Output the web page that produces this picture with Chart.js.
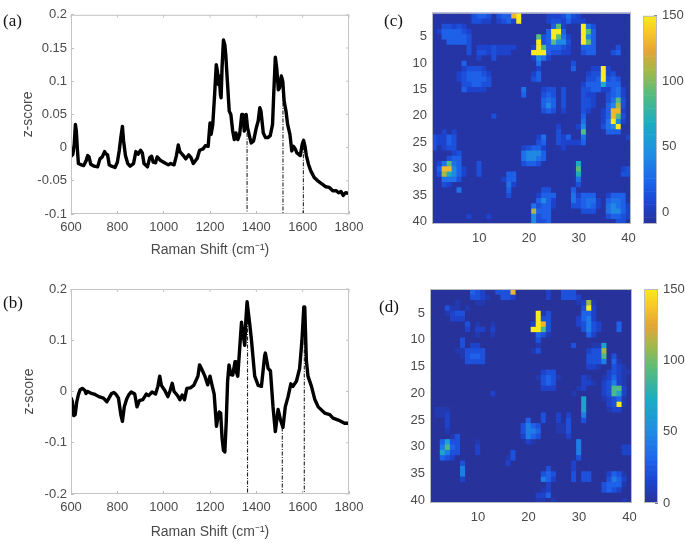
<!DOCTYPE html>
<html><head><meta charset="utf-8">
<script src="https://cdn.jsdelivr.net/npm/chart.js@4"></script>
<style>
html,body{margin:0;padding:0;background:#fff;width:685px;height:543px;overflow:hidden}
canvas{position:absolute;left:0;top:0;filter:blur(0.45px)}
canvas.map{filter:blur(0.6px)}
.tag{position:absolute;font:17px "Liberation Serif",serif;color:#111;filter:blur(0.3px)}
</style></head><body>
<canvas id="a" width="685" height="543"></canvas>
<canvas id="b" width="685" height="543"></canvas>
<canvas id="c" class="map" width="685" height="543"></canvas>
<canvas id="cbarC" width="685" height="543"></canvas>
<canvas id="d" class="map" width="685" height="543"></canvas>
<canvas id="cbarD" width="685" height="543"></canvas>
<div class="tag" style="left:3px;top:11px">(a)</div>
<div class="tag" style="left:3px;top:293px">(b)</div>
<div class="tag" style="left:384px;top:11px">(c)</div>
<div class="tag" style="left:379px;top:297px">(d)</div>
<script>
const shiftA=[600,608,614,619,623,628,632,645,655,665,672,678,685,700,715,725,735,745,750,758,765,775,790,800,808,815,822,827,835,845,855,870,880,890,900,908,915,930,940,948,955,965,972,985,1000,1020,1030,1045,1055,1063,1070,1085,1095,1108,1118,1128,1145,1155,1170,1180,1192,1200,1205,1212,1220,1227,1232,1237,1240,1245,1248,1252,1258,1264,1268,1275,1283,1290,1298,1305,1312,1320,1328,1337,1342,1348,1356,1362,1372,1378,1388,1400,1408,1415,1420,1430,1440,1450,1460,1470,1475,1482,1488,1495,1500,1508,1514,1520,1528,1535,1545,1553,1560,1568,1575,1590,1598,1604,1610,1616,1625,1635,1650,1665,1680,1700,1715,1730,1745,1755,1765,1775,1785,1800];
const zA=[-.013,-.01,.005,.035,.025,-.005,-.024,-.026,-.027,-.02,-.012,-.014,-.025,-.028,-.029,-.017,-.014,-.006,-.009,-.011,-.026,-.028,-.03,-.022,-.005,.015,.032,.01,-.012,-.024,-.028,-.024,-.006,-.01,-.004,-.008,-.024,-.029,-.015,-.013,-.022,-.023,-.014,-.019,-.022,-.026,-.024,-.026,-.012,.004,-.006,-.012,-.017,-.011,-.015,-.024,-.016,-.004,-.002,.003,.002,.037,.02,.035,.08,.125,.115,.095,.108,.08,.075,.12,.162,.155,.14,.1,.055,.05,.025,.012,.022,.012,.02,.05,.05,.025,.05,.03,.015,.007,.01,.03,.04,.06,.055,.022,.015,.015,.018,.035,.08,.136,.12,.087,.09,.108,.1,.07,.055,.035,.02,-.005,.002,-.002,-.008,-.012,.005,.011,.002,-.012,-.025,-.035,-.045,-.05,-.054,-.059,-.06,-.065,-.065,-.068,-.066,-.072,-.068,-.069];
const shiftB=[600,606,612,618,625,632,640,650,660,665,672,685,700,720,740,755,765,775,785,795,805,815,822,830,840,850,860,875,885,895,910,925,935,950,965,975,983,990,1005,1018,1028,1037,1045,1060,1070,1080,1090,1100,1115,1130,1140,1148,1155,1165,1178,1190,1200,1210,1218,1228,1234,1240,1246,1252,1258,1264,1270,1276,1282,1290,1298,1308,1312,1320,1329,1336,1340,1350,1355,1360,1372,1379,1393,1408,1422,1436,1439,1451,1461,1472,1482,1494,1504,1515,1525,1537,1549,1558,1573,1587,1597,1605,1609,1616,1623,1638,1652,1667,1695,1717,1731,1760,1781,1800];
const zB=[-.012,-.02,-.047,-.045,-.02,-.006,.004,.006,.002,-.004,0,-.003,-.005,-.01,-.013,-.02,-.012,-.004,-.002,-.006,-.013,-.045,-.058,-.03,-.015,-.006,-.001,-.005,-.03,-.018,-.016,-.005,-.008,-.001,-.005,.01,.03,.012,.002,-.01,.002,.016,0,-.008,-.016,-.007,-.016,.006,.007,.012,.022,.03,.052,.043,.03,.013,.03,.01,-.005,-.068,-.05,-.04,-.042,-.09,-.115,-.118,-.06,.02,.052,.033,.032,.058,.04,.03,.09,.135,.12,.09,.14,.175,.13,.1,.03,.012,.01,.07,.075,.045,.04,-.03,-.078,-.035,-.055,-.07,-.03,-.01,.015,.01,.02,.045,.1,.165,.165,.06,.03,.01,-.015,-.03,-.042,-.045,-.052,-.057,-.062,-.062];
const peakShiftA=[1360,1515,1603], peakTopA=[.022,.08,.002];
const peakShiftB=[1362,1512,1607], peakTopB=[.17,-.07,.16];
const shiftTicks=[600,800,1000,1200,1400,1600,1800];
const zTicksA=[-.1,-.05,0,.05,.1,.15,.2];
const zTicksB=[-.2,-.1,0,.1,.2];
const mapTicksX=[10,20,30,40];
const mapTicksY=[5,10,15,20,25,30,35,40];
const barTicks=[0,50,100,150];
const levels=[0,6,13,21,29,42,66,90,110,130,150]; // cell code 0-9,A -> value
const cellsC=["9:2332 14:2339A 24:1112421","9:2211 14:1231A 24:12213111","3:22121 25:371 31:A42","2:1333321 24:3AA3 31:A73","3:333332 22:723A741 31:A53","4:33332 22:A237552 31:A73","8:2 10:1112 14:1111 21:1A733321 31:333 38:2","8:2 10:2212111 21:AAA32211 31:233 37:23","10:1002 21:1541","7:3 22:4 29:2","7:12221 22:1 29:3 33:11A1","6:1233321 21:13 32:122A12","6:1233332 21:23 32:223A232","7:223322 31:13336333","7:31111 19:4 23:122 27:2 31:223311341","19:3 23:232 27:2 31:211 36:2341","23:343 27:2 31:221 36:2472","23:353 27:2 31:221 36:3582","23:232 27:1 31:21 35:13991","13:2 31:3 35:13972","31:4 35:14A51","26:1 30:15 35:245A","3:101 26:2 31:7 36:333","1:21132 22:14 26:213 31:4 40:1","1:21132 22:23 26:211113","1:2 3:122 19:12331 27:1","5:12 19:45553","4:233 19:45543","2:14743 10:2 19:2332 30:6","2:399531 10:2 30:7 39:12","2:286531 10:2 16:33 30:6 39:22","3:4442 15:133 30:4","3:21 16:41 30:2","6:4 16:3 23:22 29:3","16:2 22:1333 29:41333 36:1333","22:3531 29:423441 36:3443","21:42331 29:223431 36:45431","21:8333 31:222 36:45531","8:1 12:1 21:5233 36:23321","21:5223 38:22"];
const cellsD=["9:432 14:3339 24:2 27:333","9:3321 15:332 24:2 27:3332","6:1 10:11 30:1281","4:311 8:1 31:3A2","4:1233 22:A13 31:442","5:222 22:A33 30:2452","8:3 10:1 13:1 21:2A93 30:23532 38:4","8:2 10:22 13:2 21:AA73 31:3532 38:4","10:1 13:1 22:431 32:42","7:3 22:3","7:3 9:22 22:1 29:3 33:11 35:6","6:113333 21:13 32:2338","7:13443 32:3337 37:3","8:3333 32:3335 37:41","32:221 37:321","23:233 36:23211","22:13431 31:21 35:12421","23:343 31:221 35:23521","23:222 30:12 35:23772","13:2 29:1 35:23762","31:6 35:12341","31:6 36:23A1","2:111 31:6 36:122","2:112 23:3 26:2 28:2 31:5","4:2 20:4 23:3 26:2 28:3 31:3","4:2 19:3543 26:113","4:1 19:3554 26:113","5:13 19:2543 28:2","3:4633 10:1 20:21 30:5","3:5743 10:2 30:5 39:22","3:6533 10:2 17:3 30:5 39:22","3:432 16:13 30:3","7:3 16:2 29:2","7:5 24:3 29:2","7:5 23:343 29:3 31:33 36:2431","7:2 23:542 29:3 31:33 36:3542","24:2 35:34441","23:12 35:3432","22:224","22:11 25:1 39:1"];

const W=685,H=543,tick='#4a4a4a';
const sans='"Liberation Sans",Arial,sans-serif';
const anchors=[[0,40,50,155],[.1,28,68,208],[.2,30,100,235],[.33,32,140,228],[.48,28,172,195],[.62,85,188,125],[.73,160,185,75],[.83,230,165,55],[.92,248,200,40],[1,250,235,30]];
function parula(t){t=Math.max(0,Math.min(1,t));let i=0;while(i<anchors.length-2&&t>anchors[i+1][0])i++;
 const a=anchors[i],b=anchors[i+1],f=(t-a[0])/(b[0]-a[0]);
 return `rgb(${[1,2,3].map(k=>Math.round(a[k]+(b[k]-a[k])*f)).join(',')})`;}
function frame(color,mirror,fill){return{id:'frame',
 beforeDatasetsDraw(ch){if(!fill)return;const{ctx,chartArea:A}=ch;ctx.save();ctx.fillStyle=fill;ctx.fillRect(A.left,A.top,A.right-A.left,A.bottom-A.top);ctx.restore();},
 afterDatasetsDraw(ch){const{ctx,chartArea:A,scales}=ch;ctx.save();ctx.strokeStyle=color;ctx.lineWidth=1;
 ctx.strokeRect(A.left+.5,A.top+.5,A.right-A.left-1,A.bottom-A.top-1);
 if(mirror){ctx.beginPath();
  scales.x.ticks.forEach(t=>{const p=scales.x.getPixelForValue(t.value);ctx.moveTo(p,A.top);ctx.lineTo(p,A.top+3);});
  scales.y.ticks.forEach(t=>{const p=scales.y.getPixelForValue(t.value);ctx.moveTo(A.right,p);ctx.lineTo(A.right-3,p);});
  ctx.stroke();}
 ctx.restore();}};}
const makeChart=(id,type,rect,data,scales,plugins)=>new Chart(document.getElementById(id),{type,data,plugins,
 options:{responsive:false,animation:false,events:[],
  layout:{padding:{top:rect.t,right:rect.pr!==undefined?rect.pr:W-rect.r,bottom:rect.pb||0,left:rect.pl||0}},
  plugins:{legend:{display:false},tooltip:{enabled:false}},scales}});

function linePanel(id,rect,xs,ys,zTicks,zMin,zMax,px,pt,xTitleY,yTitleX){
 const ds=[{data:xs.map((x,i)=>({x,y:ys[i]})),showLine:true,borderColor:'#000',borderWidth:3.4,pointRadius:0,tension:0,borderJoinStyle:'round'}];
 px.forEach((x,i)=>ds.push({data:[{x,y:pt[i]},{x,y:zMin}],showLine:true,borderColor:'#222',borderWidth:1.1,borderDash:[4,1.5,1,1.5],pointRadius:0}));
 makeChart(id,'scatter',rect,{datasets:ds},{
  x:{type:'linear',min:600,max:1800,afterBuildTicks:a=>{a.ticks=shiftTicks.map(value=>({value}));},afterFit:s=>{s.height=H-rect.b;},
   border:{display:false},grid:{drawOnChartArea:false,tickLength:-3,color:'#bbb'},
   ticks:{color:tick,font:{family:sans,size:13},padding:9,maxRotation:0,autoSkip:false,callback:v=>String(v)},
   title:{display:true,text:'Raman Shift (cm⁻¹)',color:tick,font:{family:sans,size:14},padding:{top:0,bottom:H-xTitleY-9}}},
  y:{type:'linear',min:zMin,max:zMax,afterBuildTicks:a=>{a.ticks=zTicks.map(value=>({value}));},afterFit:s=>{s.width=rect.l;},
   border:{display:false},grid:{drawOnChartArea:false,tickLength:-3,color:'#bbb'},
   ticks:{color:tick,font:{family:sans,size:13},padding:7,autoSkip:false,callback:v=>String(v)},
   title:{display:true,text:'z-score',color:tick,font:{family:sans,size:14},padding:{top:yTitleX-9,bottom:0}}}
 },[frame('#c4c4c4',true)]);
}
linePanel('a',{l:71,r:349,t:8,b:214},shiftA,zA,zTicksA,-.1,.2,peakShiftA,peakTopA,250,29);
linePanel('b',{l:71,r:349,t:289,b:494},shiftB,zB,zTicksB,-.2,.2,peakShiftB,peakTopB,532,30);

function decode(rows,floor){return rows.map(row=>{const v=new Array(40).fill(floor);
 row.split(' ').forEach(seg=>{const[s,codes]=seg.split(':');[...codes].forEach((c,i)=>{const lv=levels[parseInt(c,16)];v[+s-1+i]=lv===0?floor:lv;});});return v;});}
const cols=Array.from({length:40},(_,i)=>i+1);
function mapPanel(id,rect,rows,floor,vMin,vMax){
 const grid=decode(rows,floor);
 const ds=grid.map((vals,r)=>({data:vals.map(()=>[r+.5,r+1.5]),backgroundColor:vals.map(v=>parula((v-vMin)/(vMax-vMin))),borderWidth:0,barPercentage:1,categoryPercentage:1,grouped:false}));
 makeChart(id,'bar',rect,{labels:cols,datasets:ds},{
  x:{type:'category',offset:true,afterFit:s=>{s.height=H-rect.b;},border:{display:false},grid:{display:false,drawTicks:false},
   ticks:{color:tick,font:{family:sans,size:13},padding:7,autoSkip:false,maxRotation:0,callback:(v,i)=>mapTicksX.includes(cols[i])?String(cols[i]):''}},
  y:{type:'linear',reverse:true,min:.5,max:40.5,afterBuildTicks:a=>{a.ticks=mapTicksY.map(value=>({value}));},afterFit:s=>{s.width=rect.l;},border:{display:false},grid:{display:false,drawTicks:false},
   ticks:{color:tick,font:{family:sans,size:13},padding:5,autoSkip:false,callback:v=>String(v)}}
 },[frame('#b9b9c4',false,parula((floor-vMin)/(vMax-vMin)))]);
}
function barPanel(id,rect,vMin,vMax){
 const n=128,ds=[];
 for(let i=0;i<n;i++){const lo=vMin+(vMax-vMin)*i/n,hi=vMin+(vMax-vMin)*(i+1)/n;
  ds.push({data:[[lo,hi]],backgroundColor:parula((i+.5)/n),borderWidth:0,barPercentage:1,categoryPercentage:1,grouped:false});}
 makeChart(id,'bar',{...rect,pl:rect.l,pb:H-rect.b,pr:0},{labels:[''],datasets:ds},{
  x:{display:false,offset:true},
  y:{position:'right',type:'linear',min:vMin,max:vMax,afterBuildTicks:a=>{a.ticks=barTicks.map(value=>({value}));},afterFit:s=>{s.width=W-rect.r;},border:{display:false},
   grid:{drawOnChartArea:false,tickLength:-3,color:'#777'},
   ticks:{color:tick,font:{family:sans,size:13},padding:8,autoSkip:false,callback:v=>String(v)}}
 },[frame('#b9b9c4',false)]);
}
mapPanel('c',{l:432,r:631,t:9,b:224},cellsC,-6,-9,150);
barPanel('cbarC',{l:643,r:657,t:9,b:224},-9,150);
mapPanel('d',{l:430,r:632,t:289,b:503},cellsD,0,0,150);
barPanel('cbarD',{l:644,r:658,t:289,b:503},0,150);
</script>
</body></html>
